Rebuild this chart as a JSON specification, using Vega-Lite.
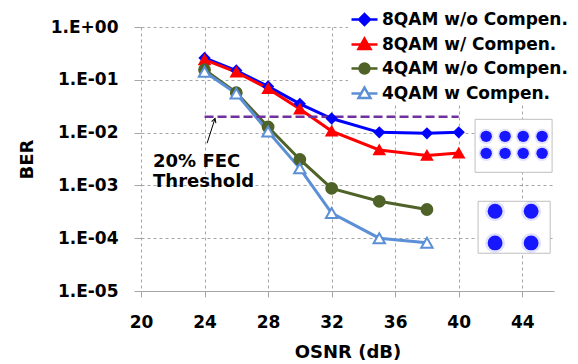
{
  "$schema": "https://vega.github.io/schema/vega-lite/v6.json",
  "width": 413,
  "height": 264,
  "autosize": {"type": "none"},
  "padding": {"left": 141, "top": 27, "right": 24, "bottom": 73},
  "background": "white",
  "config": {
    "view": {"stroke": null},
    "font": "DejaVu Sans",
    "axis": {
      "labelFont": "DejaVu Sans", "labelFontWeight": "bold", "labelFontSize": 17, "labelColor": "black",
      "titleFont": "DejaVu Sans", "titleFontWeight": "bold", "titleFontSize": 18, "titleColor": "black",
      "gridColor": "#A6A6A6", "gridDash": [3, 3], "gridWidth": 1,
      "tickColor": "#A6A6A6", "domainColor": "#A6A6A6"
    }
  },
  "datasets": {
    "ber": [
      {"series": "8QAM w/o Compen.", "osnr": 24, "ber": 0.26},
      {"series": "8QAM w/o Compen.", "osnr": 26, "ber": 0.15},
      {"series": "8QAM w/o Compen.", "osnr": 28, "ber": 0.075},
      {"series": "8QAM w/o Compen.", "osnr": 30, "ber": 0.035},
      {"series": "8QAM w/o Compen.", "osnr": 32, "ber": 0.0185},
      {"series": "8QAM w/o Compen.", "osnr": 35, "ber": 0.0101},
      {"series": "8QAM w/o Compen.", "osnr": 38, "ber": 0.0097},
      {"series": "8QAM w/o Compen.", "osnr": 40, "ber": 0.0101},
      {"series": "8QAM w/ Compen.", "osnr": 24, "ber": 0.24},
      {"series": "8QAM w/ Compen.", "osnr": 26, "ber": 0.14},
      {"series": "8QAM w/ Compen.", "osnr": 28, "ber": 0.068},
      {"series": "8QAM w/ Compen.", "osnr": 30, "ber": 0.028},
      {"series": "8QAM w/ Compen.", "osnr": 32, "ber": 0.0107},
      {"series": "8QAM w/ Compen.", "osnr": 35, "ber": 0.0047},
      {"series": "8QAM w/ Compen.", "osnr": 38, "ber": 0.0037},
      {"series": "8QAM w/ Compen.", "osnr": 40, "ber": 0.0041},
      {"series": "4QAM w/o Compen.", "osnr": 24, "ber": 0.155},
      {"series": "4QAM w/o Compen.", "osnr": 26, "ber": 0.057},
      {"series": "4QAM w/o Compen.", "osnr": 28, "ber": 0.0128},
      {"series": "4QAM w/o Compen.", "osnr": 30, "ber": 0.0031},
      {"series": "4QAM w/o Compen.", "osnr": 32, "ber": 0.00088},
      {"series": "4QAM w/o Compen.", "osnr": 35, "ber": 0.0005},
      {"series": "4QAM w/o Compen.", "osnr": 38, "ber": 0.00035},
      {"series": "4QAM w Compen.", "osnr": 24, "ber": 0.142},
      {"series": "4QAM w Compen.", "osnr": 26, "ber": 0.055},
      {"series": "4QAM w Compen.", "osnr": 28, "ber": 0.0105},
      {"series": "4QAM w Compen.", "osnr": 30, "ber": 0.0021},
      {"series": "4QAM w Compen.", "osnr": 32, "ber": 0.0003},
      {"series": "4QAM w Compen.", "osnr": 35, "ber": 0.0001},
      {"series": "4QAM w Compen.", "osnr": 38, "ber": 0.000082}
    ],
    "threshold": [
      {"osnr": 24, "osnr2": 40, "ber": 0.02}
    ],
    "insetBoxes": [
      {"panel": "8QAM", "osnr": 41.03, "osnr2": 45.88, "ber": 0.01786, "ber2": 0.00177},
      {"panel": "4QAM", "osnr": 41.22, "osnr2": 45.76, "ber": 0.0005, "ber2": 0.0000519}
    ],
    "clusters": [
      {"panel": "8QAM", "osnr": 41.73, "ber": 0.0085},
      {"panel": "8QAM", "osnr": 42.92, "ber": 0.0085},
      {"panel": "8QAM", "osnr": 44.06, "ber": 0.0085},
      {"panel": "8QAM", "osnr": 45.25, "ber": 0.0085},
      {"panel": "8QAM", "osnr": 41.73, "ber": 0.00405},
      {"panel": "8QAM", "osnr": 42.92, "ber": 0.00405},
      {"panel": "8QAM", "osnr": 44.06, "ber": 0.00405},
      {"panel": "8QAM", "osnr": 45.25, "ber": 0.00405},
      {"panel": "4QAM", "osnr": 42.29, "ber": 0.000324},
      {"panel": "4QAM", "osnr": 44.56, "ber": 0.000324},
      {"panel": "4QAM", "osnr": 42.29, "ber": 0.0000813},
      {"panel": "4QAM", "osnr": 44.56, "ber": 0.0000813}
    ]
  },
  "layer": [
    {
      "data": {"name": "ber"},
      "mark": {"type": "line", "strokeWidth": 3},
      "encoding": {
        "x": {"field": "osnr", "type": "quantitative", "title": "OSNR (dB)",
              "scale": {"domain": [20, 46], "nice": false, "zero": false},
              "axis": {"values": [20, 24, 28, 32, 36, 40, 44], "grid": true, "tickSize": 6, "labelPadding": 17, "titlePadding": 13, "labelFlush": false}},
        "y": {"field": "ber", "type": "quantitative", "title": "BER",
              "scale": {"type": "log", "domain": [0.00001, 1], "nice": false},
              "axis": {"values": [0.00001, 0.0001, 0.001, 0.01, 0.1, 1], "grid": true, "domain": false, "tickSize": 7, "labelPadding": 16, "titlePadding": 14, "labelFlush": false,
                       "labelExpr": "'1.E' + (datum.value >= 1 ? '+00' : '-0' + round(-log(datum.value) / LN10))"}},
        "color": {"field": "series", "type": "nominal", "legend": null,
                  "scale": {"domain": ["8QAM w/o Compen.", "8QAM w/ Compen.", "4QAM w/o Compen.", "4QAM w Compen."],
                            "range": ["#0000FF", "#FF0000", "#4F6228", "#5B8FD6"]}},
        "order": {"field": "osnr", "type": "quantitative"}
      }
    },
    {
      "data": {"name": "threshold"},
      "mark": {"type": "rule", "color": "#7030A0", "strokeWidth": 2.5, "strokeDash": [9, 4]},
      "encoding": {
        "x": {"field": "osnr", "type": "quantitative", "title": "OSNR (dB)"},
        "x2": {"field": "osnr2"},
        "y": {"field": "ber", "type": "quantitative", "title": "BER"}
      }
    },
    {
      "data": {"name": "ber"},
      "mark": {"type": "point", "filled": false, "strokeWidth": 2, "opacity": 1},
      "encoding": {
        "x": {"field": "osnr", "type": "quantitative", "title": "OSNR (dB)"},
        "y": {"field": "ber", "type": "quantitative", "title": "BER"},
        "color": {"field": "series", "type": "nominal", "legend": null},
        "shape": {"field": "series", "type": "nominal", "legend": null,
                  "scale": {"domain": ["8QAM w/o Compen.", "8QAM w/ Compen.", "4QAM w/o Compen.", "4QAM w Compen."],
                            "range": ["diamond", "triangle-up", "circle", "triangle-up"]}},
        "fill": {"field": "series", "type": "nominal", "legend": null,
                 "scale": {"domain": ["8QAM w/o Compen.", "8QAM w/ Compen.", "4QAM w/o Compen.", "4QAM w Compen."],
                           "range": ["#0000FF", "#FF0000", "#4F6228", "#FFFFFF"]}},
        "size": {"field": "series", "type": "nominal", "legend": null,
                 "scale": {"domain": ["8QAM w/o Compen.", "8QAM w/ Compen.", "4QAM w/o Compen.", "4QAM w Compen."],
                           "range": [90, 130, 120, 110]}}
      }
    },
    {
      "data": {"values": [{"osnr": 24.16, "ber": 0.0063, "osnr2": 24.66, "ber2": 0.0185}]},
      "mark": {"type": "rule", "color": "black", "strokeWidth": 1},
      "encoding": {
        "x": {"field": "osnr", "type": "quantitative", "title": "OSNR (dB)"},
        "y": {"field": "ber", "type": "quantitative", "title": "BER"},
        "x2": {"field": "osnr2"},
        "y2": {"field": "ber2"}
      }
    },
    {
      "data": {"values": [{"osnr": 24.66, "ber": 0.0185}]},
      "mark": {"type": "point", "shape": "M-0.5,0.9L0,0L0.5,0.9", "filled": false, "color": "black", "strokeWidth": 1, "size": 81, "angle": 18, "opacity": 1},
      "encoding": {
        "x": {"field": "osnr", "type": "quantitative", "title": "OSNR (dB)"},
        "y": {"field": "ber", "type": "quantitative", "title": "BER"}
      }
    },
    {
      "data": {"values": [{"label": "20% FEC", "osnr": 20.76, "ber": 0.00272}, {"label": "Threshold", "osnr": 20.76, "ber": 0.00115}]},
      "mark": {"type": "text", "align": "left", "baseline": "middle", "font": "DejaVu Sans", "fontWeight": "bold", "fontSize": 18, "color": "black"},
      "encoding": {
        "x": {"field": "osnr", "type": "quantitative", "title": "OSNR (dB)"},
        "y": {"field": "ber", "type": "quantitative", "title": "BER"},
        "text": {"field": "label"}
      }
    },
    {
      "data": {"name": "insetBoxes"},
      "mark": {"type": "rect", "fill": "white", "stroke": "#BFBFBF", "strokeWidth": 1},
      "encoding": {
        "x": {"field": "osnr", "type": "quantitative", "title": "OSNR (dB)"},
        "x2": {"field": "osnr2"},
        "y": {"field": "ber", "type": "quantitative", "title": "BER"},
        "y2": {"field": "ber2"}
      }
    },
    {
      "data": {"name": "clusters"},
      "mark": {"type": "circle", "color": "#3333FF", "opacity": 0.15},
      "encoding": {
        "x": {"field": "osnr", "type": "quantitative", "title": "OSNR (dB)"},
        "y": {"field": "ber", "type": "quantitative", "title": "BER"},
        "size": {"condition": {"test": "datum.panel === '8QAM'", "value": 230}, "value": 400}
      }
    },
    {
      "data": {"name": "clusters"},
      "mark": {"type": "circle", "color": "#0000FF", "opacity": 0.9},
      "encoding": {
        "x": {"field": "osnr", "type": "quantitative", "title": "OSNR (dB)"},
        "y": {"field": "ber", "type": "quantitative", "title": "BER"},
        "size": {"condition": {"test": "datum.panel === '8QAM'", "value": 130}, "value": 220}
      }
    },
    {
      "data": {"name": "ber"},
      "transform": [{"filter": "false"}],
      "mark": {"type": "point", "filled": false, "strokeWidth": 2.5},
      "encoding": {
        "x": {"field": "osnr", "type": "quantitative", "title": "OSNR (dB)"},
        "y": {"field": "ber", "type": "quantitative", "title": "BER"},
        "shape": {"field": "series", "type": "nominal",
                  "scale": {"domain": ["8QAM w/o Compen.", "8QAM w/ Compen.", "4QAM w/o Compen.", "4QAM w Compen."],
                            "range": [
                              "M-1,0H1M0,-0.42L0.42,0L0,0.42L-0.42,0Z",
                              "M-1,0H1M0,-0.46L0.46,0.34L-0.46,0.34Z",
                              "M-1,0H1M-0.38,0A0.38,0.38,0,1,1,0.38,0A0.38,0.38,0.0,1,1,-0.38,0Z",
                              "M-1,0H-0.26M0.26,0H1M0,-0.46L0.46,0.34L-0.46,0.34Z"
                            ]},
                  "legend": {"title": null, "orient": "none", "legendX": 207, "legendY": -24, "fillColor": "white", "padding": 2,
                             "symbolSize": 676, "symbolStrokeWidth": 2.5, "symbolOpacity": 1, "rowPadding": -1,
                             "labelFont": "DejaVu Sans", "labelFontWeight": "bold", "labelFontSize": 17, "labelColor": "black", "labelOffset": 3, "labelLimit": 300}},
        "fill": {"field": "series", "type": "nominal",
                 "scale": {"domain": ["8QAM w/o Compen.", "8QAM w/ Compen.", "4QAM w/o Compen.", "4QAM w Compen."],
                           "range": ["#0000FF", "#FF0000", "#4F6228", "#FFFFFF"]}},
        "stroke": {"field": "series", "type": "nominal",
                   "scale": {"domain": ["8QAM w/o Compen.", "8QAM w/ Compen.", "4QAM w/o Compen.", "4QAM w Compen."],
                             "range": ["#0000FF", "#FF0000", "#4F6228", "#5B8FD6"]}}
      }
    }
  ],
  "resolve": {"scale": {"shape": "independent", "fill": "independent", "size": "independent", "stroke": "independent"}}
}
